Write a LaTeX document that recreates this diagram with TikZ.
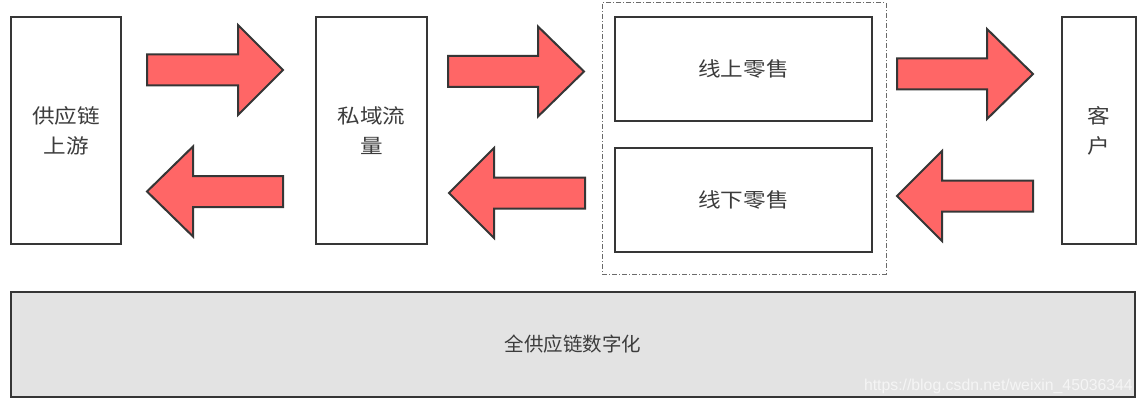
\documentclass[tikz,border=0pt]{standalone}
\usepackage{fontspec}
\newfontfamily\cjk[FakeStretch=1.13]{Noto Sans CJK SC}
\newfontfamily\cjkbase{Noto Sans CJK SC}
\newfontfamily\wmfont{Liberation Sans}
\definecolor{boxline}{HTML}{363636}
\definecolor{txt}{HTML}{3C3C3C}
\definecolor{arrowred}{HTML}{FF6666}
\definecolor{basegray}{HTML}{E3E3E3}
\definecolor{dashgray}{HTML}{6A6A6A}
\tikzset{
  blockbox/.style={draw=boxline, line width=2.4pt, fill=white, text=txt, align=center,
    inner sep=0pt, font=\cjk\fontsize{20}{30}\selectfont},
  basebox/.style={blockbox, fill=basegray, font=\cjkbase\fontsize{19.5}{24}\selectfont},
  groupbox/.style={draw=dashgray, line width=1pt, dash pattern=on 5pt off 2pt on 1pt off 2pt, inner sep=0pt},
  blockarrow/.style={draw=boxline, line width=2pt, fill=arrowred, line join=miter},
  watermark/.style={text=white!96!black, font=\wmfont\fontsize{15.8}{18}\selectfont, inner sep=0pt}
}
\newcommand{\myRarrow}[4]{%
  \draw[blockarrow] (#1,#4-15.5) -- (#2,#4-15.5) -- (#2,#4-45) -- (#3,#4) -- (#2,#4+45)
    -- (#2,#4+15.5) -- (#1,#4+15.5) -- cycle;}
\newcommand{\myLarrow}[4]{%
  \draw[blockarrow] (#3,#4-15.5) -- (#2,#4-15.5) -- (#2,#4-45) -- (#1,#4) -- (#2,#4+45)
    -- (#2,#4+15.5) -- (#3,#4+15.5) -- cycle;}
\begin{document}
\begin{tikzpicture}[x=1pt,y=-1pt]
\useasboundingbox[fill=white] (0,0) rectangle (1144,404);
% dashed group
\node[groupbox, minimum width=284pt, minimum height=271pt] (grp) at (744,138.5) {};
% boxes
\node[blockbox, minimum width=110pt, minimum height=227pt] (up) at (66,130.5) {供应链\\上游};
\node[blockbox, minimum width=111pt, minimum height=227pt] (priv) at (371.5,130.5) {私域流\\量};
\node[blockbox, minimum width=257pt, minimum height=104pt] (online) at (743.5,69) {线上零售};
\node[blockbox, minimum width=257pt, minimum height=104pt] (offline) at (743.5,200) {线下零售};
\node[blockbox, minimum width=74pt, minimum height=227pt] (cust) at (1099,130.5) {客\\户};
\node[basebox, minimum width=1124pt, minimum height=105pt] (base) at (573,344.5) {全供应链数字化};
% block arrows
\myRarrow{147}{238}{283}{70}
\myLarrow{147}{193}{283}{191.5}
\myRarrow{448}{538}{584}{71.5}
\myLarrow{449}{494}{585}{193}
\myRarrow{897}{987}{1033}{74}
\myLarrow{897}{942}{1033}{196}
% watermark
\node[watermark, anchor=east] (wm) at (1133,386) {https://blog.csdn.net/weixin\_45036344};
\end{tikzpicture}
\end{document}
